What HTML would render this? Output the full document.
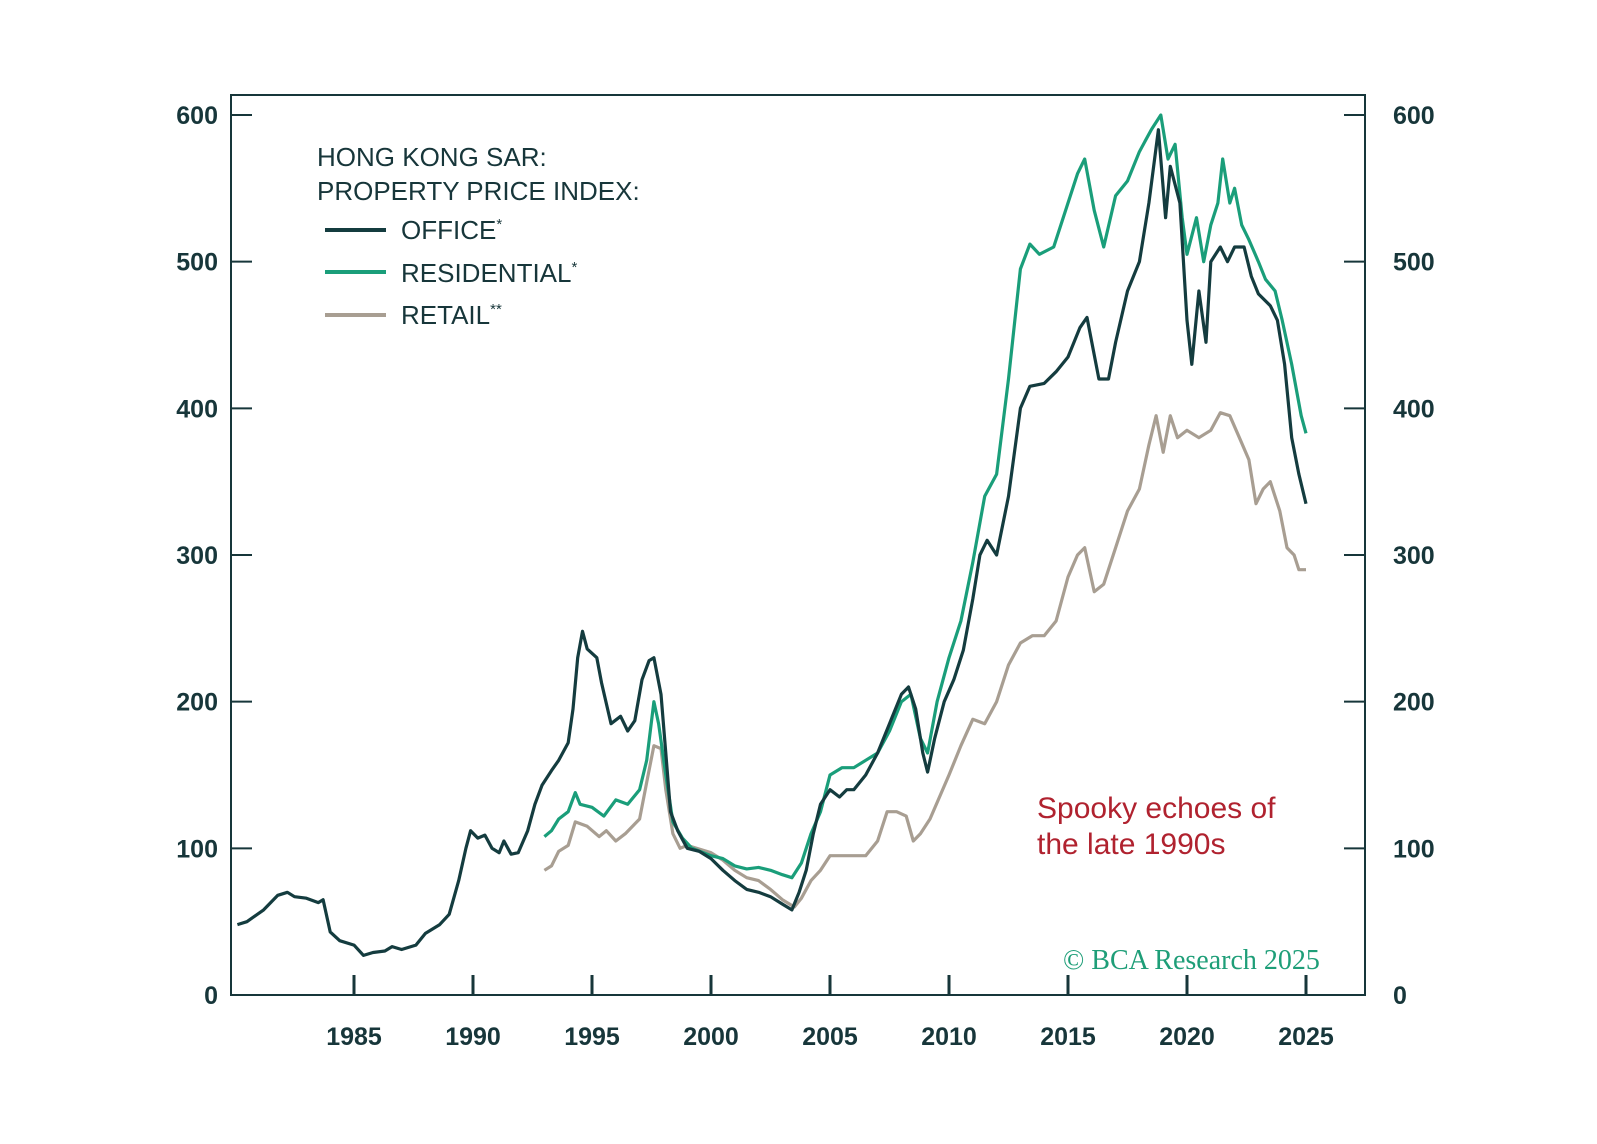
<!DOCTYPE html>
<html><head><meta charset="utf-8"><style>
body{margin:0;background:#fff;}
svg{display:block;font-family:"Liberation Sans",sans-serif;}
.t{font-size:25px;font-weight:bold;fill:#17363a;}
.lg{font-size:26px;fill:#17363a;}
</style></head><body>
<svg id="c" width="1597" height="1144" viewBox="0 0 1597 1144">
<rect x="0" y="0" width="1597" height="1144" fill="#fff"/>
<g id="axes"></g>
<g id="lines"></g>
<g>
<text class="lg" x="317" y="166">HONG KONG SAR:</text>
<text class="lg" x="317" y="200">PROPERTY PRICE INDEX:</text>
<line x1="325" y1="230" x2="386" y2="230" stroke="#143c3f" stroke-width="4"/>
<text class="lg" x="401" y="239">OFFICE<tspan font-size="15" dy="-10">*</tspan></text>
<line x1="325" y1="272" x2="386" y2="272" stroke="#1a9e7a" stroke-width="4"/>
<text class="lg" x="401" y="282">RESIDENTIAL<tspan font-size="15" dy="-10">*</tspan></text>
<line x1="325" y1="315" x2="386" y2="315" stroke="#a89e92" stroke-width="4"/>
<text class="lg" x="401" y="324">RETAIL<tspan font-size="15" dy="-10">**</tspan></text>
</g>
<text x="1047" y="826" font-size="30" fill="#b0222f" transform="translate(-10,-8)">Spooky echoes of</text>
<text x="1047" y="862" font-size="30" fill="#b0222f" transform="translate(-10,-8)">the late 1990s</text>
<text x="1063" y="969" font-size="28" fill="#1e9e78" font-family="Liberation Serif,serif">© BCA Research 2025</text>
</svg>
<script>
const yTicks=[0,100,200,300,400,500,600];
const xTicks=[1985,1990,1995,2000,2005,2010,2015,2020,2025];
const officeYears=[1980.1,1980.5,1981.2,1981.8,1982.2,1982.5,1983,1983.5,1983.7,1984,1984.4,1985,1985.4,1985.8,1986.3,1986.6,1987,1987.6,1988,1988.6,1989,1989.4,1989.7,1989.9,1990.2,1990.5,1990.8,1991.1,1991.3,1991.6,1991.9,1992.3,1992.6,1992.9,1993.3,1993.6,1994,1994.2,1994.4,1994.6,1994.8,1995.2,1995.4,1995.8,1996.2,1996.5,1996.8,1997.1,1997.4,1997.6,1997.9,1998.1,1998.3,1998.6,1999,1999.5,2000,2000.5,2001,2001.5,2002,2002.5,2003,2003.4,2003.7,2004,2004.3,2004.6,2005,2005.4,2005.7,2006,2006.5,2007,2007.5,2008,2008.3,2008.6,2008.9,2009.1,2009.4,2009.8,2010.2,2010.6,2011,2011.3,2011.6,2012,2012.5,2013,2013.4,2014,2014.5,2015,2015.5,2015.8,2016.3,2016.7,2017,2017.5,2018,2018.4,2018.8,2019.1,2019.3,2019.7,2020,2020.2,2020.5,2020.8,2021,2021.4,2021.7,2022,2022.4,2022.7,2023,2023.5,2023.8,2024.1,2024.4,2024.7,2025];
const officeValues=[48,50,58,68,70,67,66,63,65,43,37,34,27,29,30,33,31,34,42,48,55,78,100,112,107,109,100,97,105,96,97,112,130,143,153,160,172,195,230,248,236,230,213,185,190,180,187,215,228,230,205,165,125,112,100,98,93,85,78,72,70,67,62,58,70,85,110,130,140,135,140,140,150,165,185,205,210,195,165,152,175,200,215,235,270,300,310,300,340,400,415,417,425,435,455,462,420,420,445,480,500,540,590,530,565,540,460,430,480,445,500,510,500,510,510,490,478,470,460,430,380,355,335];
const resYears=[1993,1993.3,1993.6,1994,1994.3,1994.5,1995,1995.5,1996,1996.5,1997,1997.3,1997.6,1997.8,1998.1,1998.4,1998.8,1999.2,2000,2000.5,2001,2001.5,2002,2002.5,2003,2003.4,2003.8,2004.2,2004.6,2005,2005.5,2006,2006.5,2007,2007.5,2008,2008.4,2008.8,2009.1,2009.5,2010,2010.5,2011,2011.5,2012,2012.5,2013,2013.4,2013.8,2014.4,2015,2015.4,2015.7,2016.1,2016.5,2017,2017.5,2018,2018.5,2018.9,2019.2,2019.5,2019.8,2020,2020.4,2020.7,2021,2021.3,2021.5,2021.8,2022,2022.3,2022.6,2023,2023.3,2023.7,2024,2024.4,2024.8,2025];
const resValues=[108,112,120,125,138,130,128,122,133,130,140,160,200,185,150,118,107,100,95,93,88,86,87,85,82,80,90,110,125,150,155,155,160,165,180,200,205,175,165,200,230,255,295,340,355,420,495,512,505,510,540,560,570,535,510,545,555,575,590,600,570,580,530,505,530,500,525,540,570,540,550,525,515,500,488,480,460,430,395,383];
const retYears=[1993,1993.3,1993.6,1994,1994.3,1994.8,1995.3,1995.6,1996,1996.4,1997,1997.3,1997.6,1997.9,1998.1,1998.4,1998.7,1999,2000,2000.5,2001,2001.5,2002,2002.5,2003,2003.5,2003.8,2004.2,2004.6,2005,2005.5,2006,2006.5,2007,2007.4,2007.8,2008.2,2008.5,2008.8,2009.2,2009.6,2010,2010.5,2011,2011.5,2012,2012.5,2013,2013.5,2014,2014.5,2015,2015.4,2015.7,2016.1,2016.5,2017,2017.5,2018,2018.4,2018.7,2019,2019.3,2019.6,2020,2020.5,2021,2021.4,2021.8,2022.2,2022.6,2022.9,2023.2,2023.5,2023.9,2024.2,2024.5,2024.7,2025];
const retValues=[85,88,98,102,118,115,108,112,105,110,120,145,170,168,140,110,100,102,97,92,85,80,78,72,65,60,66,78,85,95,95,95,95,105,125,125,122,105,110,120,135,150,170,188,185,200,225,240,245,245,255,285,300,305,275,280,305,330,345,375,395,370,395,380,385,380,385,397,395,380,365,335,345,350,330,305,300,290,290];

const NS="http://www.w3.org/2000/svg";
const L=231,R=1365,T=95,B=995;
const yS=v=>B-v*(880/600);
const xS=yr=>1306+(yr-2025)*23.8;
function mk(tag,at,parent){const e=document.createElementNS(NS,tag);for(const k in at)e.setAttribute(k,at[k]);parent.appendChild(e);return e;}
const ax=document.getElementById('axes');
const frame=mk('rect',{x:L,y:T,width:R-L,height:B-T,fill:'none',stroke:'#17363a','stroke-width':2},ax);


yTicks.forEach(v=>{
  const y=yS(v);
  if(v>0){
    const t1=mk('line',{x1:L,x2:L+21,y1:y,y2:y,stroke:'#17363a','stroke-width':2},ax);
    
    
    const t2=mk('line',{x1:R-21,x2:R,y1:y,y2:y,stroke:'#17363a','stroke-width':2},ax);
    
    
  }
  const a=mk('text',{x:218,y:y+9,'text-anchor':'end',class:'t'},ax);a.textContent=v;
  
  
  const b=mk('text',{x:1393,y:y+9,class:'t'},ax);b.textContent=v;
  
  
});
xTicks.forEach(yr=>{
  const x=xS(yr);
  const t=mk('line',{x1:x,x2:x,y1:B,y2:B-20,stroke:'#17363a','stroke-width':3},ax);
  
  
  const l=mk('text',{x:x,y:1045,'text-anchor':'middle',class:'t'},ax);l.textContent=yr;
  
  
});
const lg=document.getElementById('lines');
function line(xs,vs,col,name){
  const d=xs.map((x,i)=>(i?'L':'M')+xS(x).toFixed(1)+','+yS(vs[i]).toFixed(1)).join('');
  const p=mk('path',{d:d,fill:'none',stroke:col,'stroke-width':3.2,'stroke-linejoin':'round'},lg);
  
  
}
line(retYears,retValues,'#a89e92','retail-line');
line(resYears,resValues,'#1a9e7a','residential-line');
line(officeYears,officeValues,'#143c3f','office-line');
</script>
</body></html>
